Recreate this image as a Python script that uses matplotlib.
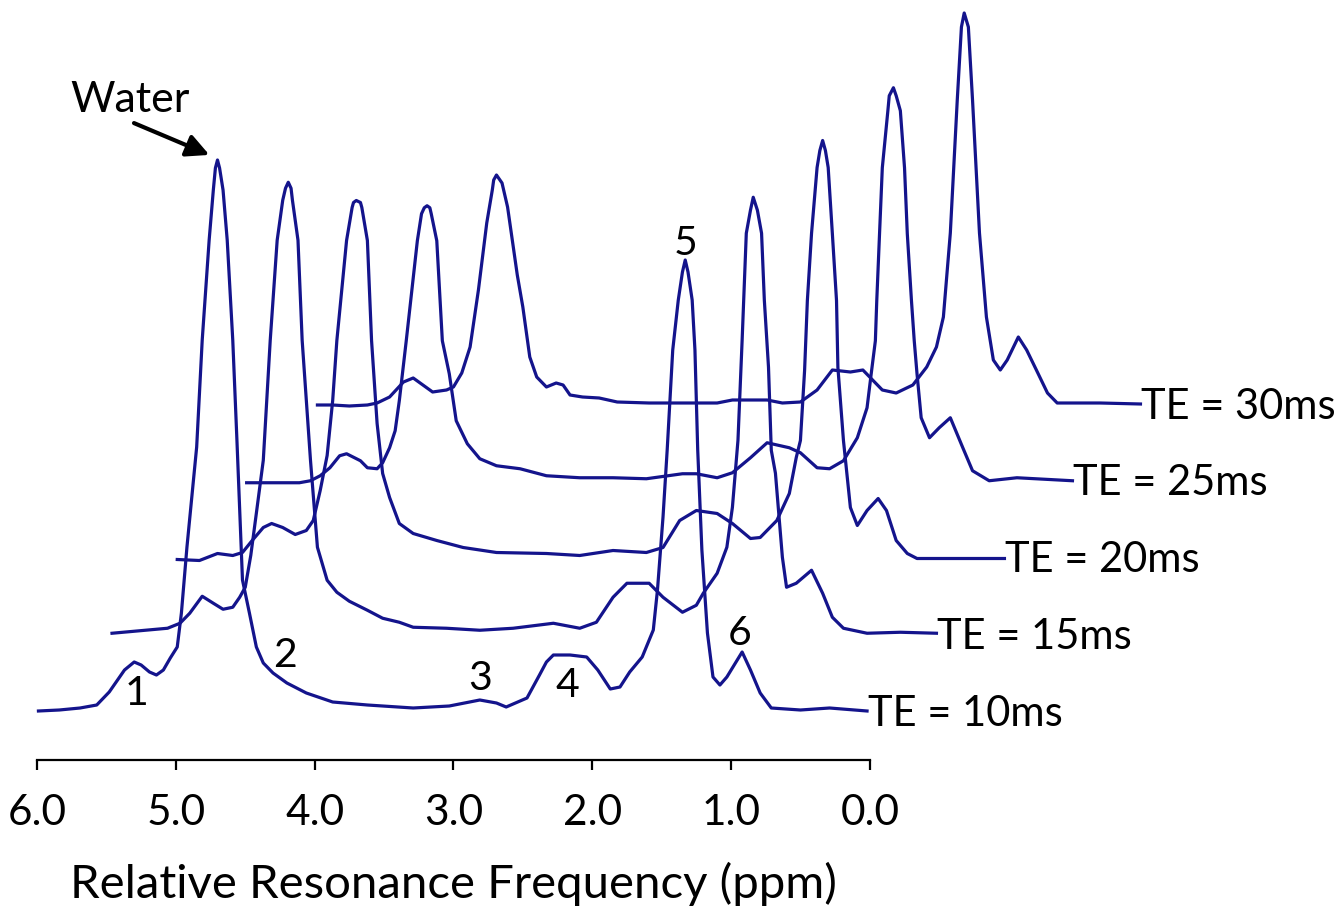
import matplotlib
matplotlib.use("Agg")
import numpy as np
import matplotlib.pyplot as plt

plt.rcParams['font.family'] = ['Lato', 'DejaVu Sans']

# echo times of the five stacked spectra
echo_times = [10, 15, 20, 25, 30]

# spectra: chemical shift (ppm) and amplitude (a.u.)
ppm_te10 = [5.99, 5.84, 5.69, 5.57, 5.48, 5.37, 5.30, 5.25, 5.19, 5.14, 5.09, 5.04, 4.99, 4.96, 4.92,
            4.85, 4.81, 4.76, 4.73, 4.715, 4.70, 4.685, 4.66, 4.63, 4.59, 4.56, 4.52, 4.47, 4.42, 4.37,
            4.30, 4.20, 4.06, 3.87, 3.62, 3.29, 3.03, 2.81, 2.69, 2.62, 2.47, 2.38, 2.33, 2.28, 2.16,
            2.04, 1.96, 1.87, 1.80, 1.73, 1.64, 1.56, 1.53, 1.49, 1.46, 1.42, 1.38, 1.35, 1.33, 1.31,
            1.28, 1.26, 1.24, 1.21, 1.17, 1.13, 1.08, 1.03, 0.92, 0.86, 0.79, 0.71, 0.50, 0.29, 0.02]
amp_te10 = [0, 1, 3, 6, 19, 41, 49, 46, 39, 36, 41, 53, 64, 98, 164,
            264, 371, 471, 521, 543, 551, 543, 521, 471, 371, 271, 131, 98, 64, 48,
            38, 28, 18, 9, 6, 3, 5, 11, 8, 4, 13, 36, 49, 56, 56,
            54, 41, 22, 24, 39, 54, 81, 121, 194, 261, 361, 411, 439, 451, 439,
            411, 361, 261, 161, 78, 34, 26, 34, 59, 41, 18, 3, 1, 3, 0]

ppm_te15 = [5.96, 5.56, 5.47, 5.40, 5.31, 5.23, 5.16, 5.09, 5.04, 5.00, 4.96, 4.92, 4.87, 4.82, 4.77,
            4.73, 4.71, 4.69, 4.67, 4.66, 4.62, 4.59, 4.56, 4.53, 4.48, 4.41, 4.34, 4.25, 4.12, 4.01,
            3.89, 3.79, 3.55, 3.31, 3.07, 2.78, 2.59, 2.47, 2.35, 2.25, 2.09, 1.99, 1.85, 1.75, 1.70,
            1.60, 1.53, 1.49, 1.45, 1.42, 1.39, 1.36, 1.34, 1.31, 1.28, 1.26, 1.23, 1.21, 1.18, 1.13,
            1.10, 1.03, 0.92, 0.84, 0.77, 0.69, 0.52, 0.28, 0.02]
amp_te15 = [1, 6, 11, 21, 38, 31, 25, 27, 37, 47, 79, 121, 174, 294, 394,
            434, 446, 452, 446, 434, 394, 294, 234, 174, 87, 54, 42, 33, 24, 16,
            12, 7, 6, 4, 6, 11, 6, 12, 37, 51, 51, 37, 22, 29, 41,
            61, 87, 127, 194, 294, 401, 424, 437, 424, 401, 334, 267, 184, 161, 77,
            47, 51, 64, 41, 17, 6, 1, 2, 1]

ppm_te20 = [5.99, 5.83, 5.70, 5.59, 5.52, 5.45, 5.37, 5.31, 5.23, 5.14, 5.06, 5.01, 4.96, 4.91, 4.87,
            4.84, 4.77, 4.73, 4.72, 4.70, 4.67, 4.66, 4.62, 4.59, 4.55, 4.51, 4.46, 4.39, 4.29, 4.12,
            3.93, 3.69, 3.33, 3.09, 2.85, 2.61, 2.49, 2.37, 2.25, 2.10, 1.99, 1.86, 1.79, 1.67, 1.58,
            1.53, 1.50, 1.47, 1.45, 1.42, 1.38, 1.36, 1.34, 1.32, 1.30, 1.27, 1.24, 1.23, 1.19, 1.14,
            1.09, 1.02, 0.94, 0.88, 0.81, 0.73, 0.66, 0.42, 0.03]
amp_te20 = [-2, -3, 4, 2, 5, 17, 30, 34, 30, 23, 27, 37, 67, 102, 157,
            217, 317, 350, 355, 357, 355, 350, 317, 217, 134, 84, 60, 34, 24, 17,
            10, 5, 4, 2, 7, 5, 10, 37, 47, 44, 34, 19, 20, 37, 64,
            100, 117, 187, 257, 324, 390, 407, 417, 407, 390, 324, 257, 190, 117, 50,
            32, 47, 59, 47, 17, 4, -1, -1, -1]

ppm_te25 = [5.99, 5.84, 5.70, 5.61, 5.53, 5.46, 5.39, 5.32, 5.27, 5.17, 5.12, 5.05, 5.01, 4.96, 4.92,
            4.89, 4.84, 4.76, 4.73, 4.71, 4.69, 4.67, 4.66, 4.62, 4.58, 4.53, 4.48, 4.40, 4.31, 4.19,
            4.02, 3.83, 3.59, 3.35, 3.11, 2.85, 2.75, 2.60, 2.49, 2.36, 2.24, 2.08, 2.00, 1.88, 1.79,
            1.69, 1.59, 1.52, 1.49, 1.46, 1.45, 1.43, 1.41, 1.37, 1.36, 1.33, 1.31, 1.28, 1.25, 1.23,
            1.20, 1.18, 1.16, 1.13, 1.07, 1.00, 0.92, 0.83, 0.76, 0.64, 0.44, 0.04]
amp_te25 = [-2, -2, -2, -2, 0, 5, 13, 25, 27, 20, 13, 12, 18, 33, 50,
            80, 140, 240, 267, 273, 275, 273, 267, 240, 140, 107, 60, 37, 22, 15,
            12, 5, 3, 3, 2, 7, 7, 3, 8, 23, 38, 33, 28, 13, 12,
            20, 43, 73, 107, 140, 180, 247, 313, 370, 385, 393, 385, 370, 313, 247,
            180, 140, 107, 63, 43, 53, 63, 33, 10, 0, 3, 0]

ppm_te30 = [5.98, 5.87, 5.75, 5.62, 5.55, 5.46, 5.36, 5.29, 5.22, 5.15, 5.05, 5.00, 4.94, 4.88, 4.82,
            4.76, 4.72, 4.71, 4.69, 4.67, 4.65, 4.61, 4.54, 4.50, 4.45, 4.40, 4.33, 4.26, 4.21, 4.16,
            4.07, 3.95, 3.82, 3.59, 3.35, 3.10, 2.99, 2.74, 2.63, 2.50, 2.38, 2.27, 2.14, 2.05, 1.98,
            1.91, 1.81, 1.69, 1.59, 1.52, 1.47, 1.42, 1.37, 1.34, 1.32, 1.29, 1.26, 1.21, 1.16, 1.11,
            1.06, 1.01, 0.93, 0.87, 0.80, 0.72, 0.65, 0.34, 0.05]
amp_te30 = [-1, -1, -2, -1, 1, 7, 22, 26, 19, 12, 14, 17, 31, 57, 114,
            181, 214, 224, 229, 225, 221, 197, 129, 97, 47, 27, 17, 21, 19, 9,
            7, 6, 2, 1, 1, 1, 4, 4, 1, 2, 14, 34, 32, 34, 24,
            14, 11, 19, 37, 57, 87, 171, 304, 377, 391, 377, 304, 171, 87, 44,
            34, 44, 67, 54, 34, 11, 1, 1, 0]

spectra = [(ppm_te10, amp_te10), (ppm_te15, amp_te15), (ppm_te20, amp_te20),
           (ppm_te25, amp_te25), (ppm_te30, amp_te30)]

# peak numbers: label, ppm, height of the label baseline
peak_labels = ['1', '2', '3', '4', '5', '6']
peak_label_ppm = [5.28, 4.21, 2.81, 2.18, 1.33, 0.94]
peak_label_y = [6, 44, 21, 14, 456, 66]

ticks = [6, 5, 4, 3, 2, 1, 0]
tick_labels = ['6.0', '5.0', '4.0', '3.0', '2.0', '1.0', '0.0']

# stacking: each later echo time moves right by 0.5 ppm and up
x_step = 0.5
y_step = 76.75
line_color = '#14148c'

fig = plt.figure(figsize=(13.42, 9.07), dpi=100)
ax = fig.add_axes([0, 0, 1, 1])
ax.set_xlim(6.267, -3.402)
ax.set_ylim(-196, 711)

for i, (ppm, amp) in enumerate(spectra):
    x = np.array(ppm) - x_step * i
    y = np.array(amp) + y_step * i
    ax.plot(x, y, color=line_color, lw=2.3, solid_joinstyle='round')
    ax.annotate('TE = %dms' % echo_times[i], xy=(x[-1], y_step * i),
                xytext=(0.5, -10.5), textcoords='offset points',
                ha='left', va='baseline', fontsize=30)

for lab, px, py in zip(peak_labels, peak_label_ppm, peak_label_y):
    ax.text(px, py, lab, ha='center', va='baseline', fontsize=29.5)

ax.text(5.33, 599, 'Water', ha='center', va='baseline', fontsize=31)
ax.annotate('', xy=(4.74, 555), xytext=(5.32, 589),
            arrowprops=dict(arrowstyle='-|>', lw=3.0, color='black', mutation_scale=34))

for s in ['top', 'left', 'right']:
    ax.spines[s].set_visible(False)
ax.spines['bottom'].set_position(('data', -49))
ax.spines['bottom'].set_bounds(0, 6)
ax.spines['bottom'].set_linewidth(1.6)
ax.set_yticks([])
ax.set_xticks(ticks)
ax.set_xticklabels(tick_labels)
ax.tick_params(axis='x', direction='out', length=7.5, width=1.6, pad=17, labelsize=30.5)

ax.text(3.0, -187, 'Relative Resonance Frequency (ppm)', ha='center', va='baseline', fontsize=34)

fig.savefig('out.png', dpi=100)
